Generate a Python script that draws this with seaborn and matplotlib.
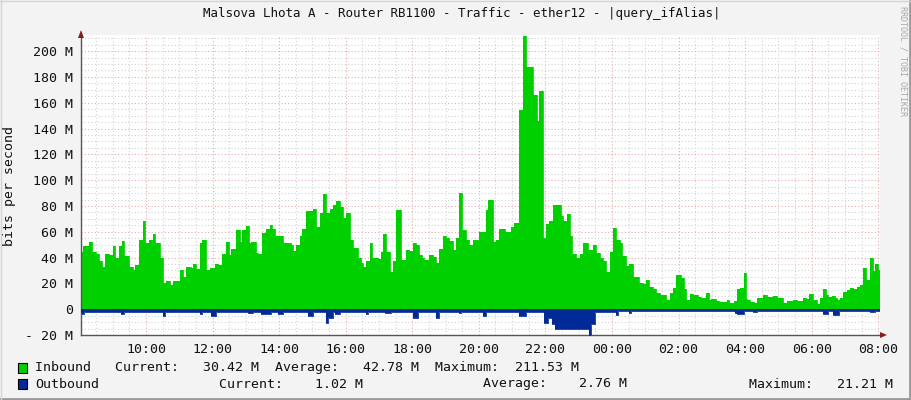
import matplotlib
matplotlib.use("Agg")
import pandas as pd
import matplotlib.pyplot as plt
import matplotlib.dates as mdates
from matplotlib.ticker import MultipleLocator, FixedLocator, FixedFormatter
from matplotlib.patches import Rectangle, Polygon
from matplotlib.lines import Line2D
import seaborn as sns


TITLE = "Malsova Lhota A - Router RB1100 - Traffic - ether12 - |query_ifAlias|"
Y_LABEL = "bits per second"
WATERMARK = "RRDTOOL / TOBI OETIKER"

Y_TICKS = [-20, 0, 20, 40, 60, 80, 100, 120, 140, 160, 180, 200]
Y_TICK_LABELS = ["- 20 M", "0", "20 M", "40 M", "60 M", "80 M", "100 M",
                 "120 M", "140 M", "160 M", "180 M", "200 M"]

# 24 hour window shown on the graph
WINDOW_START = "08:03"
WINDOW_HOURS = 24

# inbound traffic, Mbit/s, step values starting at each time
IN_TIMES = [
    "08:02", "08:06", "08:18", "08:23", "08:30", "08:36", "08:41", "08:47",
    "08:54", "09:00", "09:05", "09:12", "09:17", "09:21", "09:30", "09:36",
    "09:41", "09:48", "09:54", "09:59", "10:06", "10:12", "10:17", "10:25",
    "10:31", "10:37", "10:43", "10:49", "11:01", "11:07", "11:13", "11:22",
    "11:25", "11:31", "11:37", "11:41", "11:49", "11:56", "12:05", "12:10",
    "12:17", "12:25", "12:29", "12:34", "12:43", "12:49", "12:53", "13:01",
    "13:05", "13:10", "13:19", "13:22", "13:29", "13:37", "13:43", "13:47",
    "13:52", "14:07", "14:22", "14:25", "14:31", "14:37", "14:41", "14:49",
    "15:01", "15:07", "15:13", "15:19", "15:25", "15:31", "15:37", "15:43",
    "15:49", "15:55", "16:01", "16:07", "16:13", "16:22", "16:27", "16:31",
    "16:37", "16:43", "16:47", "16:51", "16:58", "17:03", "17:07", "17:13",
    "17:19", "17:25", "17:31", "17:39", "17:49", "17:55", "18:01", "18:07",
    "18:13", "18:18", "18:22", "18:28", "18:31", "18:37", "18:43", "18:49",
    "18:55", "19:01", "19:07", "19:13", "19:19", "19:25", "19:29", "19:37",
    "19:43", "19:49", "19:58", "20:01", "20:07", "20:13", "20:17", "20:25",
    "20:31", "20:37", "20:47", "20:52", "20:58", "21:04", "21:13", "21:19",
    "21:25", "21:37", "21:45", "21:49", "21:55", "22:01", "22:07", "22:13",
    "22:28", "22:32", "22:38", "22:44", "22:48", "22:56", "23:02", "23:08",
    "23:17", "23:26", "23:32", "23:38", "23:44", "23:50", "23:56", "00:02",
    "00:08", "00:14", "00:18", "00:26", "00:30", "00:38", "00:48", "00:56",
    "01:02", "01:06", "01:14", "01:20", "01:26", "01:38", "01:44", "01:50",
    "01:56", "02:04", "02:10", "02:14", "02:20", "02:26", "02:35", "02:41",
    "02:50", "02:55", "02:59", "03:08", "03:12", "03:27", "03:31", "03:40",
    "03:45", "03:51", "03:57", "04:01", "04:04", "04:09", "04:16", "04:21",
    "04:33", "04:39", "04:51", "04:57", "05:09", "05:15", "05:27", "05:33",
    "05:45", "05:49", "05:55", "06:03", "06:09", "06:15", "06:21", "06:25",
    "06:30", "06:36", "06:42", "06:45", "06:51", "06:57", "07:03", "07:09",
    "07:15", "07:21", "07:27", "07:33", "07:37", "07:41", "07:45", "07:51",
    "07:54", "07:59",
]
IN_MBPS = [
    44, 49, 52, 44, 43, 37, 33, 43,
    42, 49, 40, 49, 53, 41, 33, 30,
    34, 54, 68, 51, 54, 58, 51, 40,
    20, 22, 19, 21.5, 30, 25, 33, 32,
    35, 31, 51, 54, 30, 32, 35, 34,
    43, 52, 42, 47, 61, 52, 61, 64.6,
    51, 52, 43.6, 43, 59, 62, 65.6, 62,
    57, 51, 50, 45, 50, 57, 62, 76,
    77.5, 64, 74.7, 89, 74.7, 77.5, 80.6, 84,
    79, 70.8, 74.7, 53.5, 47.8, 40, 36, 32.8,
    37.5, 51, 39.5, 40, 39, 44, 58, 44,
    29, 37, 77, 38.5, 46, 45, 51, 50,
    42, 40, 38.5, 38, 42, 40.6, 36, 47,
    56.6, 55.5, 53, 45.8, 55.5, 90.4, 61, 54,
    50, 54, 53, 60, 59.5, 76.7, 84.5, 52,
    53.5, 62, 59.5, 60, 64, 67, 154, 211.5,
    188, 166, 146, 169, 55, 66, 68, 81,
    72, 68.5, 74, 57, 42.6, 39.8, 43, 51.4,
    45.7, 49.6, 43.7, 39.3, 37.5, 29, 44.4, 63.3,
    53.5, 51.4, 41.3, 33.6, 35, 25, 20, 19.5,
    23, 17.5, 16, 12.8, 11, 7, 12.3, 16.7,
    26.4, 24.5, 16, 7.5, 11.5, 11, 9.6, 8.8,
    12.3, 7, 7.8, 6.2, 5.7, 7, 4.9, 6.2,
    15.5, 16.5, 28, 7.8, 7, 5.7, 4.9, 9,
    11.3, 9.6, 10.3, 9, 4.9, 6.2, 7, 6.2,
    9, 7.8, 11.6, 7, 4.4, 8.3, 15.5, 10.8,
    9.6, 10.3, 9, 7, 8.8, 13.4, 15.2, 16.5,
    16, 17.3, 18.6, 32, 22.5, 23, 40, 29.5,
    35, 30.4,
]

# outbound traffic, Mbit/s (drawn below zero)
OUT_TIMES = [
    "08:02", "08:04", "08:09", "09:15", "09:21", "10:31", "10:35", "11:37",
    "11:41", "11:58", "12:06", "13:04", "13:13", "13:28", "13:45", "13:58",
    "14:07", "14:52", "15:01", "15:25", "15:29", "15:37", "15:40", "15:49",
    "16:37", "16:41", "17:10", "17:22", "18:01", "18:11", "18:43", "18:49",
    "19:25", "19:28", "20:07", "20:13", "21:13", "21:25", "21:58", "22:05",
    "22:12", "22:17", "23:18", "23:22", "23:30", "00:07", "00:11", "00:30",
    "00:34", "03:42", "03:45", "03:57", "04:14", "04:21", "06:21", "06:30",
    "06:39", "06:49", "07:45", "07:54",
]
OUT_MBPS = [
    2.5, 3.5, 2, 4, 2, 5, 2, 4,
    2, 5, 2.5, 3, 2, 4, 2, 4,
    2, 5, 2.5, 10.6, 7, 2.5, 4, 2,
    4, 2, 3, 2, 6.5, 2, 7, 2,
    3, 2, 5, 2, 5, 2, 11, 7,
    11.7, 15.5, 21, 11.6, 2, 4.7, 1.5, 3,
    1.5, 3, 3.4, 1.5, 2.5, 1.5, 3.5, 1.5,
    4.5, 1.5, 2.2, 1.02,
]

LEGEND_NAMES = ["Inbound", "Outbound"]
LEGEND_CURRENT = ["30.42 M", "1.02 M"]
LEGEND_AVERAGE = ["42.78 M", "2.76 M"]
LEGEND_MAXIMUM = ["211.53 M", "21.21 M"]

IN_COLOR = "#00CF00"
OUT_COLOR = "#002A97"
BACK = "#F3F3F3"
MAJOR_GRID = "#EBA9A9"
MINOR_GRID = "#D2D2D2"

W, H = 911, 400


def to_stamps(times):
    """Clock strings -> timestamps, times before 08:00 belong to the next day."""
    base = pd.Timestamp("2024-05-01")
    stamps = []
    for t in times:
        ts = base + pd.Timedelta(t + ":00")
        if t < "08:00":
            ts += pd.Timedelta(days=1)
        stamps.append(ts)
    return stamps


def fx(px):
    return px / W


def fy(py):
    return 1 - py / H


def build_frame(times, values, end):
    df = pd.DataFrame({"time": to_stamps(times), "value": values})
    last = pd.DataFrame({"time": [end], "value": [values[-1]]})
    return pd.concat([df, last], ignore_index=True)


def main():
    sns.set_theme(style="white")
    plt.rcParams["font.family"] = ["DejaVu Sans Mono"]

    x0 = to_stamps([WINDOW_START])[0]
    x1 = x0 + pd.Timedelta(hours=WINDOW_HOURS)

    inbound = build_frame(IN_TIMES, IN_MBPS, x1)
    outbound = build_frame(OUT_TIMES, OUT_MBPS, x1)
    outbound["value"] = -outbound["value"]

    fig = plt.figure(figsize=(W / 100, H / 100), dpi=100, facecolor=BACK)
    ax = fig.add_axes([fx(81), fy(335), fx(880) - fx(81), fy(35) - fy(335)])
    ax.set_facecolor("white")
    ax.set_axisbelow(True)

    ax.fill_between(inbound["time"], 0, inbound["value"], step="post",
                    color=IN_COLOR, lw=0, zorder=2)
    ax.fill_between(outbound["time"], 0, outbound["value"], step="post",
                    color=OUT_COLOR, lw=0, zorder=3)
    sns.lineplot(data=inbound, x="time", y="value", ax=ax, color=IN_COLOR,
                 drawstyle="steps-post", lw=0.6, zorder=2)
    sns.lineplot(data=outbound, x="time", y="value", ax=ax, color=OUT_COLOR,
                 drawstyle="steps-post", lw=0.6, zorder=3)

    ax.set_xlim(x0, x1)
    ax.set_ylim(-20, 212.5)

    ax.yaxis.set_major_locator(FixedLocator(Y_TICKS))
    ax.yaxis.set_major_formatter(FixedFormatter(Y_TICK_LABELS))
    ax.yaxis.set_minor_locator(MultipleLocator(5))
    ax.xaxis.set_major_locator(mdates.HourLocator(byhour=range(0, 24, 2)))
    ax.xaxis.set_major_formatter(mdates.DateFormatter("%H:%M"))
    ax.xaxis.set_minor_locator(mdates.MinuteLocator(byminute=[0, 30]))

    ax.grid(which="major", color=MAJOR_GRID, linestyle=(0, (1, 2)), lw=0.8)
    ax.grid(which="minor", color=MINOR_GRID, linestyle=(0, (1, 2)), lw=0.8)

    for side in ["top", "right"]:
        ax.spines[side].set_visible(False)
    for side in ["left", "bottom"]:
        ax.spines[side].set_color("#555555")
        ax.spines[side].set_linewidth(1.0)

    ax.tick_params(which="major", direction="inout", length=5, width=0.8,
                   color="#D07070", labelsize=9.5, labelcolor="#111111", pad=3)
    ax.tick_params(which="minor", direction="inout", length=3, width=0.8,
                   color="#999999")
    ax.set_xlabel("")
    ax.set_ylabel("")

    # axis arrows
    fig.add_artist(Polygon([(fx(78), fy(38)), (fx(84), fy(38)), (fx(81), fy(30))],
                           closed=True, transform=fig.transFigure,
                           color="#8B1A1A", lw=0))
    fig.add_artist(Polygon([(fx(880), fy(332)), (fx(880), fy(338)), (fx(887), fy(335))],
                           closed=True, transform=fig.transFigure,
                           color="#8B1A1A", lw=0))

    fig.text(fx(462), fy(14), TITLE, ha="center", va="center",
             fontsize=9, color="#111111")
    fig.text(fx(10), fy(186), Y_LABEL, ha="center", va="center",
             rotation=90, fontsize=9.5, color="#111111")
    fig.text(fx(903), fy(61), WATERMARK, ha="center", va="center",
             rotation=270, fontsize=6, color="#A8A8A8")

    # legend
    rows_y = [368, 384]
    for i, color in enumerate([IN_COLOR, OUT_COLOR]):
        y = rows_y[i]
        fig.add_artist(Rectangle((fx(18), fy(y + 5)), fx(9), fy(y - 5) - fy(y + 5),
                                 transform=fig.transFigure, facecolor=color,
                                 edgecolor="black", lw=0.8))
    fig.text(fx(35), fy(rows_y[0]),
             f"{LEGEND_NAMES[0]:<10}Current:{LEGEND_CURRENT[0]:>10}  "
             f"Average:{LEGEND_AVERAGE[0]:>10}  Maximum:{LEGEND_MAXIMUM[0]:>10}",
             ha="left", va="center", fontsize=9.5, color="#111111")
    fig.text(fx(35), fy(rows_y[1]), LEGEND_NAMES[1],
             ha="left", va="center", fontsize=9.5, color="#111111")
    for label, value, right in [("Current:", LEGEND_CURRENT[1], 363),
                                ("Average:", LEGEND_AVERAGE[1], 627),
                                ("Maximum:", LEGEND_MAXIMUM[1], 893)]:
        fig.text(fx(right), fy(rows_y[1]), f"{label}{value:>10}",
                 ha="right", va="center", fontsize=9.5, color="#111111")

    # shaded frame
    fig.add_artist(Line2D([0, 1], [fy(399), fy(399)], transform=fig.transFigure,
                          color="#9A9A9A", lw=2))
    fig.add_artist(Line2D([fx(910), fx(910)], [0, 1], transform=fig.transFigure,
                          color="#9A9A9A", lw=2))
    fig.add_artist(Line2D([0, 1], [fy(0.5), fy(0.5)], transform=fig.transFigure,
                          color="#D4D4D4", lw=1))
    fig.add_artist(Line2D([fx(0.5), fx(0.5)], [0, 1], transform=fig.transFigure,
                          color="#D4D4D4", lw=1))

    fig.savefig("out.png", dpi=100, facecolor=BACK)
    plt.close(fig)


if __name__ == "__main__":
    main()
